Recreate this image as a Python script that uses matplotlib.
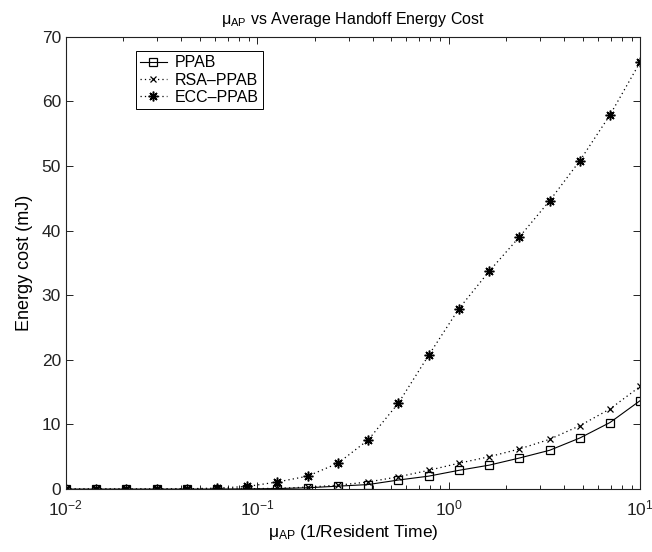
#!/usr/bin/env python3

import matplotlib
matplotlib.use('Agg')
import matplotlib.pyplot as plt

plt.rcParams['font.family'] = ['Liberation Sans', 'DejaVu Sans']
plt.rcParams['mathtext.fontset'] = 'custom'
plt.rcParams['mathtext.rm'] = 'Liberation Sans'
plt.rcParams['mathtext.it'] = 'Liberation Sans'

# mu_AP values (1/resident time), 20 log-spaced samples 1e-2 .. 1e1
mu = [0.01, 0.01438, 0.02069, 0.02976, 0.04281, 0.06158, 0.08859, 0.1274,
      0.1833, 0.2637, 0.3793, 0.5456, 0.7848, 1.129, 1.624, 2.336,
      3.360, 4.833, 6.952, 10.0]

ppab = [0, 0, 0, 0, 0, 0.01, 0.03, 0.08, 0.2, 0.45,
        0.7, 1.4, 2.0, 2.9, 3.7, 4.8, 6.0, 7.9, 10.3, 13.7]
rsa_ppab = [0, 0, 0, 0, 0.01, 0.02, 0.05, 0.12, 0.3, 0.6,
            1.1, 1.9, 2.9, 4.0, 5.0, 6.2, 7.7, 9.8, 12.4, 15.9]
ecc_ppab = [0, 0, 0, 0, 0.05, 0.15, 0.4, 1.1, 2.0, 4.0,
            7.6, 13.3, 20.7, 27.9, 33.7, 39.0, 44.6, 50.8, 57.9, 66.1]

fig = plt.figure(figsize=(6.52, 5.52), dpi=100)
ax = fig.add_axes([0.101, 0.114, 0.881, 0.8195])

ax.plot(mu, ppab, color='k', linestyle='-', linewidth=0.8, marker='s',
        markersize=6, markerfacecolor='none', markeredgecolor='k',
        markeredgewidth=0.9, label='PPAB')
ax.plot(mu, rsa_ppab, color='k', linestyle=(0, (1, 2.5)), linewidth=0.9,
        marker='x', markersize=5, markeredgewidth=0.9, label='RSA\u2013PPAB')
ax.plot(mu, ecc_ppab, color='k', linestyle=(0, (1, 2.5)), linewidth=0.9,
        marker=(8, 2, 0), markersize=7, markeredgewidth=1.1, label='ECC\u2013PPAB')

ax.set_xscale('log')
ax.set_xlim(1e-2, 1e1)
ax.set_ylim(0, 70)
ax.set_yticks(range(0, 71, 10))

ax.tick_params(which='both', direction='in', top=True, right=True,
               labelsize=12.5, width=0.7, colors='#222222', labelcolor='#222222')
ax.tick_params(which='major', length=5)
ax.tick_params(which='minor', length=3)
ax.tick_params(axis='x', which='major', pad=7)
for s in ax.spines.values():
    s.set_linewidth(0.8)
    s.set_color('#222222')

ax.set_xlabel(r'$\mathregular{\mu_{AP}}$ (1/Resident Time)', fontsize=12.5, labelpad=3)
ax.set_ylabel('Energy cost (mJ)', fontsize=13, labelpad=6)
ax.set_title(r'$\mathregular{\mu_{AP}}$ vs Average Handoff Energy Cost', fontsize=11.5, pad=9)

leg = ax.legend(loc='upper left', bbox_to_anchor=(0.122, 0.968), borderaxespad=0,
                fontsize=11.5, handlelength=1.7, handletextpad=0.5,
                labelspacing=0.15, fancybox=False, framealpha=1,
                borderpad=0.25)
leg.get_frame().set_edgecolor('k')
leg.get_frame().set_linewidth(0.7)

plt.savefig('out.png', dpi=100)
